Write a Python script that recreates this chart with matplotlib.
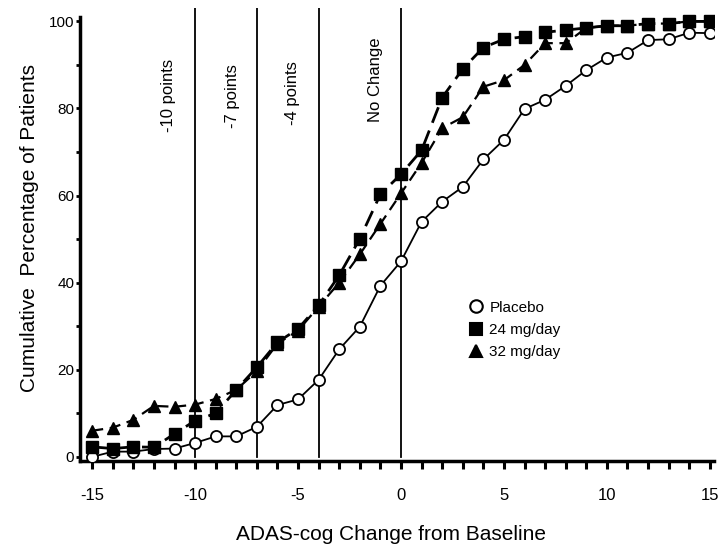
import numpy as np
import matplotlib.pyplot as plt

plt.rcParams['font.family'] = ['Liberation Sans', 'DejaVu Sans']
plt.rcParams['axes.unicode_minus'] = False

# ADAS-cog change from baseline (integer steps)
change = list(range(-15, 16))

placebo = [0, 1.2, 1.2, 1.8, 1.9, 3.2, 4.7, 4.7, 6.9, 11.9, 13.2, 17.7, 24.7, 29.9, 39.3,
           44.9, 54, 58.6, 62, 68.3, 72.8, 79.9, 82, 85.2, 88.8, 91.7, 92.8, 95.7, 95.9, 97.4, 97.3]
mg24 = [2.3, 1.9, 2.3, 2.2, 5.3, 8.3, 10, 15.4, 20.6, 26.3, 29.4, 34.8, 41.7, 50.1, 60.3,
        64.9, 70.4, 82.5, 89.1, 94, 95.9, 96.5, 97.5, 98, 98.5, 99, 99, 99.5, 99.5, 100, 100]
mg32 = [6, 6.7, 8.5, 11.7, 11.5, 12, 13.3, 15.4, 19.7, 26, 29, 34.5, 40, 46.5, 53.5,
        60.5, 67.5, 75.5, 78, 85, 86.5, 90, 95, 95, 98.5, 99, 99, 99.5, 99.5, 100, 100]

cutoffs = [-10, -7, -4, 0]
cutoff_labels = ['-10 points', '-7 points', '-4 points', 'No Change']

fig = plt.figure(figsize=(7.19, 5.55), dpi=100)
ax = fig.add_axes([0.111, 0.169, 0.882, 0.816])

for c in cutoffs:
    ax.plot([c, c], [0, 103], color='black', lw=1.3, zorder=1)

# label positions next to the cutoff lines
lab_x = [-11.3, -8.2, -5.25, -1.25]
lab_y = [83, 82.8, 83.5, 86.5]
for x, y, t in zip(lab_x, lab_y, cutoff_labels):
    ax.text(x, y, t, rotation=90, ha='center', va='center', fontsize=12)

ax.plot(change, placebo, '-o', color='black', lw=1.3, ms=8, mfc='white', mec='black',
        mew=1.3, label='Placebo', zorder=3)
ax.plot(change, mg32, '-^', color='black', lw=1.6, ls=(0, (5, 3)), ms=9,
        label='32 mg/day', zorder=4)
ax.plot(change, mg24, '-s', color='black', lw=2.0, ls=(0, (6, 3)), ms=8,
        label='24 mg/day', zorder=5)

ax.set_xlim(-15.6, 15.2)
ax.set_ylim(-1, 103)

ax.spines['top'].set_visible(False)
ax.spines['right'].set_visible(False)
ax.spines['left'].set_linewidth(2.5)
ax.spines['bottom'].set_linewidth(2.5)
ax.spines['left'].set_bounds(-1, 101)

ax.set_xticks(range(-15, 16, 5))
ax.set_xticks(range(-15, 16), minor=True)
ax.set_yticks(range(0, 101, 20))
ax.set_yticks(range(0, 101, 10), minor=True)
ax.tick_params(axis='x', which='both', direction='out', length=6, width=2.2, labelsize=12, pad=13)
ax.tick_params(axis='y', which='both', direction='out', length=3, width=2, labelsize=11, pad=1)

ax.set_xlabel('ADAS-cog Change from Baseline', fontsize=15)
ax.xaxis.set_label_coords(0.49, -0.14)
ax.set_ylabel('Cumulative  Percentage of Patients', fontsize=15)
ax.yaxis.set_label_coords(-0.065, 0.514)

handles, labels = ax.get_legend_handles_labels()
order = [0, 2, 1]
leg_handles = []
for i in order:
    h = handles[i]
    leg_handles.append(plt.Line2D([], [], ls='none', marker=h.get_marker(), ms=9,
                                  mfc=h.get_markerfacecolor(), mec='black', mew=1.5))
ax.legend(leg_handles, [labels[i] for i in order], loc='upper left',
          bbox_to_anchor=(0.588, 0.385), frameon=False, fontsize=11,
          handletextpad=0.3, labelspacing=0.55, handlelength=1.2)

fig.savefig('out.png', dpi=100)
